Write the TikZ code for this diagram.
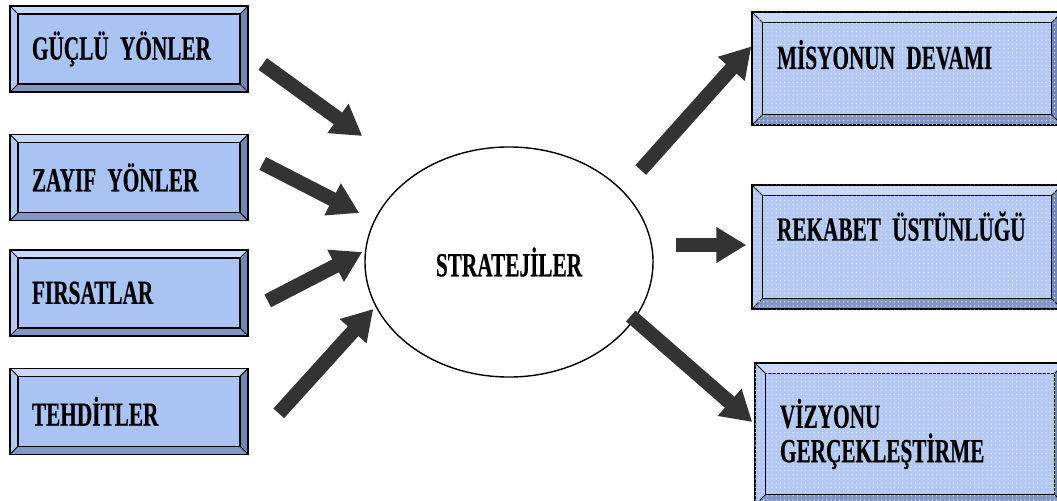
\documentclass[tikz,border=0pt]{standalone}
\usepackage{fontspec}
\newfontfamily\boxfont{Liberation Serif}[FakeStretch=0.63, FakeBold=0.4]
\usepackage{xcolor}
\usetikzlibrary{arrows.meta,positioning,shapes.geometric,calc,patterns}

\definecolor{boxblue}{HTML}{A9C3F3}
\definecolor{dotblue}{HTML}{B3C9F2}
\definecolor{bevtop}{HTML}{C9D7F8}
\definecolor{bevleft}{HTML}{B4C8F2}
\definecolor{bevbot}{HTML}{8296C4}
\definecolor{bevright}{HTML}{7187B6}
\definecolor{arrgray}{HTML}{333333}

\begin{document}
\begin{tikzpicture}[
    x=0.025cm, y=-0.025cm,
    font={\boxfont\bfseries\fontsize{24}{24.5}\selectfont
      \fontdimen2\font=3pt\fontdimen3\font=0pt\fontdimen4\font=0pt\relax},
    bevel/.style={draw, line width=1pt, align=left, inner ysep=0pt,
      path picture={
        \coordinate (bnw) at (path picture bounding box.north west);
        \coordinate (bne) at (path picture bounding box.north east);
        \coordinate (bsw) at (path picture bounding box.south west);
        \coordinate (bse) at (path picture bounding box.south east);
        \coordinate (inw) at ($(bnw)+(#1,-#1)$);
        \coordinate (ine) at ($(bne)+(-#1,-#1)$);
        \coordinate (isw) at ($(bsw)+(#1,#1)$);
        \coordinate (ise) at ($(bse)+(-#1,#1)$);
        \fill[bevtop] (bnw) -- (bne) -- (ine) -- (inw) -- cycle;
        \fill[bevleft] (bnw) -- (inw) -- (isw) -- (bsw) -- cycle;
        \fill[bevbot] (bsw) -- (isw) -- (ise) -- (bse) -- cycle;
        \fill[bevright] (bse) -- (ise) -- (ine) -- (bne) -- cycle;
        \draw[line width=0.6pt] (bnw) -- (inw) (bne) -- (ine) (bsw) -- (isw) (bse) -- (ise);
        \draw[line width=1pt] (inw) rectangle (ise);
      }},
    leftbox/.style={bevel=0.2cm, fill=boxblue, minimum width=5.95cm,
      minimum height=2.15cm, inner xsep=0.55cm, text width=4.85cm},
    rightbox/.style={bevel=0.27cm, fill=dotblue, inner xsep=0.625cm,
      text width=6.5cm, minimum width=7.75cm,
      postaction={pattern=dots, pattern color=white!55!dotblue}},
    arr/.style={draw=arrgray, line width=0.36cm,
      -{Triangle[length=0.75cm, width=0.85cm]}}
]
\useasboundingbox (0,0) rectangle (1057,500);

\node[leftbox] (strong) at (129,49) {GÜÇLÜ YÖNLER};
\node[leftbox, below=1.025cm of strong] (weak) {ZAYIF YÖNLER};
\node[leftbox, below=0.7cm of weak] (opport) {FIRSATLAR};
\node[leftbox, below=0.775cm of opport] (threat) {TEHDİTLER};

\node[ellipse, draw, line width=1pt, minimum width=7.2cm, minimum height=5.75cm]
  (strat) at (509,262) {STRATEJİLER};

\node[rightbox, minimum height=2.825cm, text depth=0.7cm] (mission) at (907,68.5) {MİSYONUN DEVAMI};
\node[rightbox, minimum height=3.1cm, text depth=1.05cm] (compet) at (907,247) {REKABET ÜSTÜNLÜĞÜ};
\node[rightbox, minimum height=3.55cm] (vision) at (910,434) {VİZYONU\\GERÇEKLEŞTİRME};

\draw[arr] ($(strong.east)+(14,15)$) -- ($(strat.west)+(-2,-126)$);
\draw[arr] ($(weak.east)+(14,-14)$) -- ($(strat.west)+(-5,-49)$);
\draw[arr] ($(opport.east)+(19,8)$) -- ($(strat.west)+(-2,-10)$);
\draw[arr] ($(threat.east)+(30,2)$) -- ($(strat.west)+(9,47)$);

\draw[arr] ($(strat.east)+(-13,-92)$) -- ($(mission.west)+(0,-22)$);
\draw[arr] ($(strat.east)+(22,-17)$) -- ($(compet.west)+(-5,-2)$);
\draw[arr] ($(strat.east)+(-23,54)$) -- ($(vision.west)+(-2,-12)$);
\end{tikzpicture}
\end{document}
